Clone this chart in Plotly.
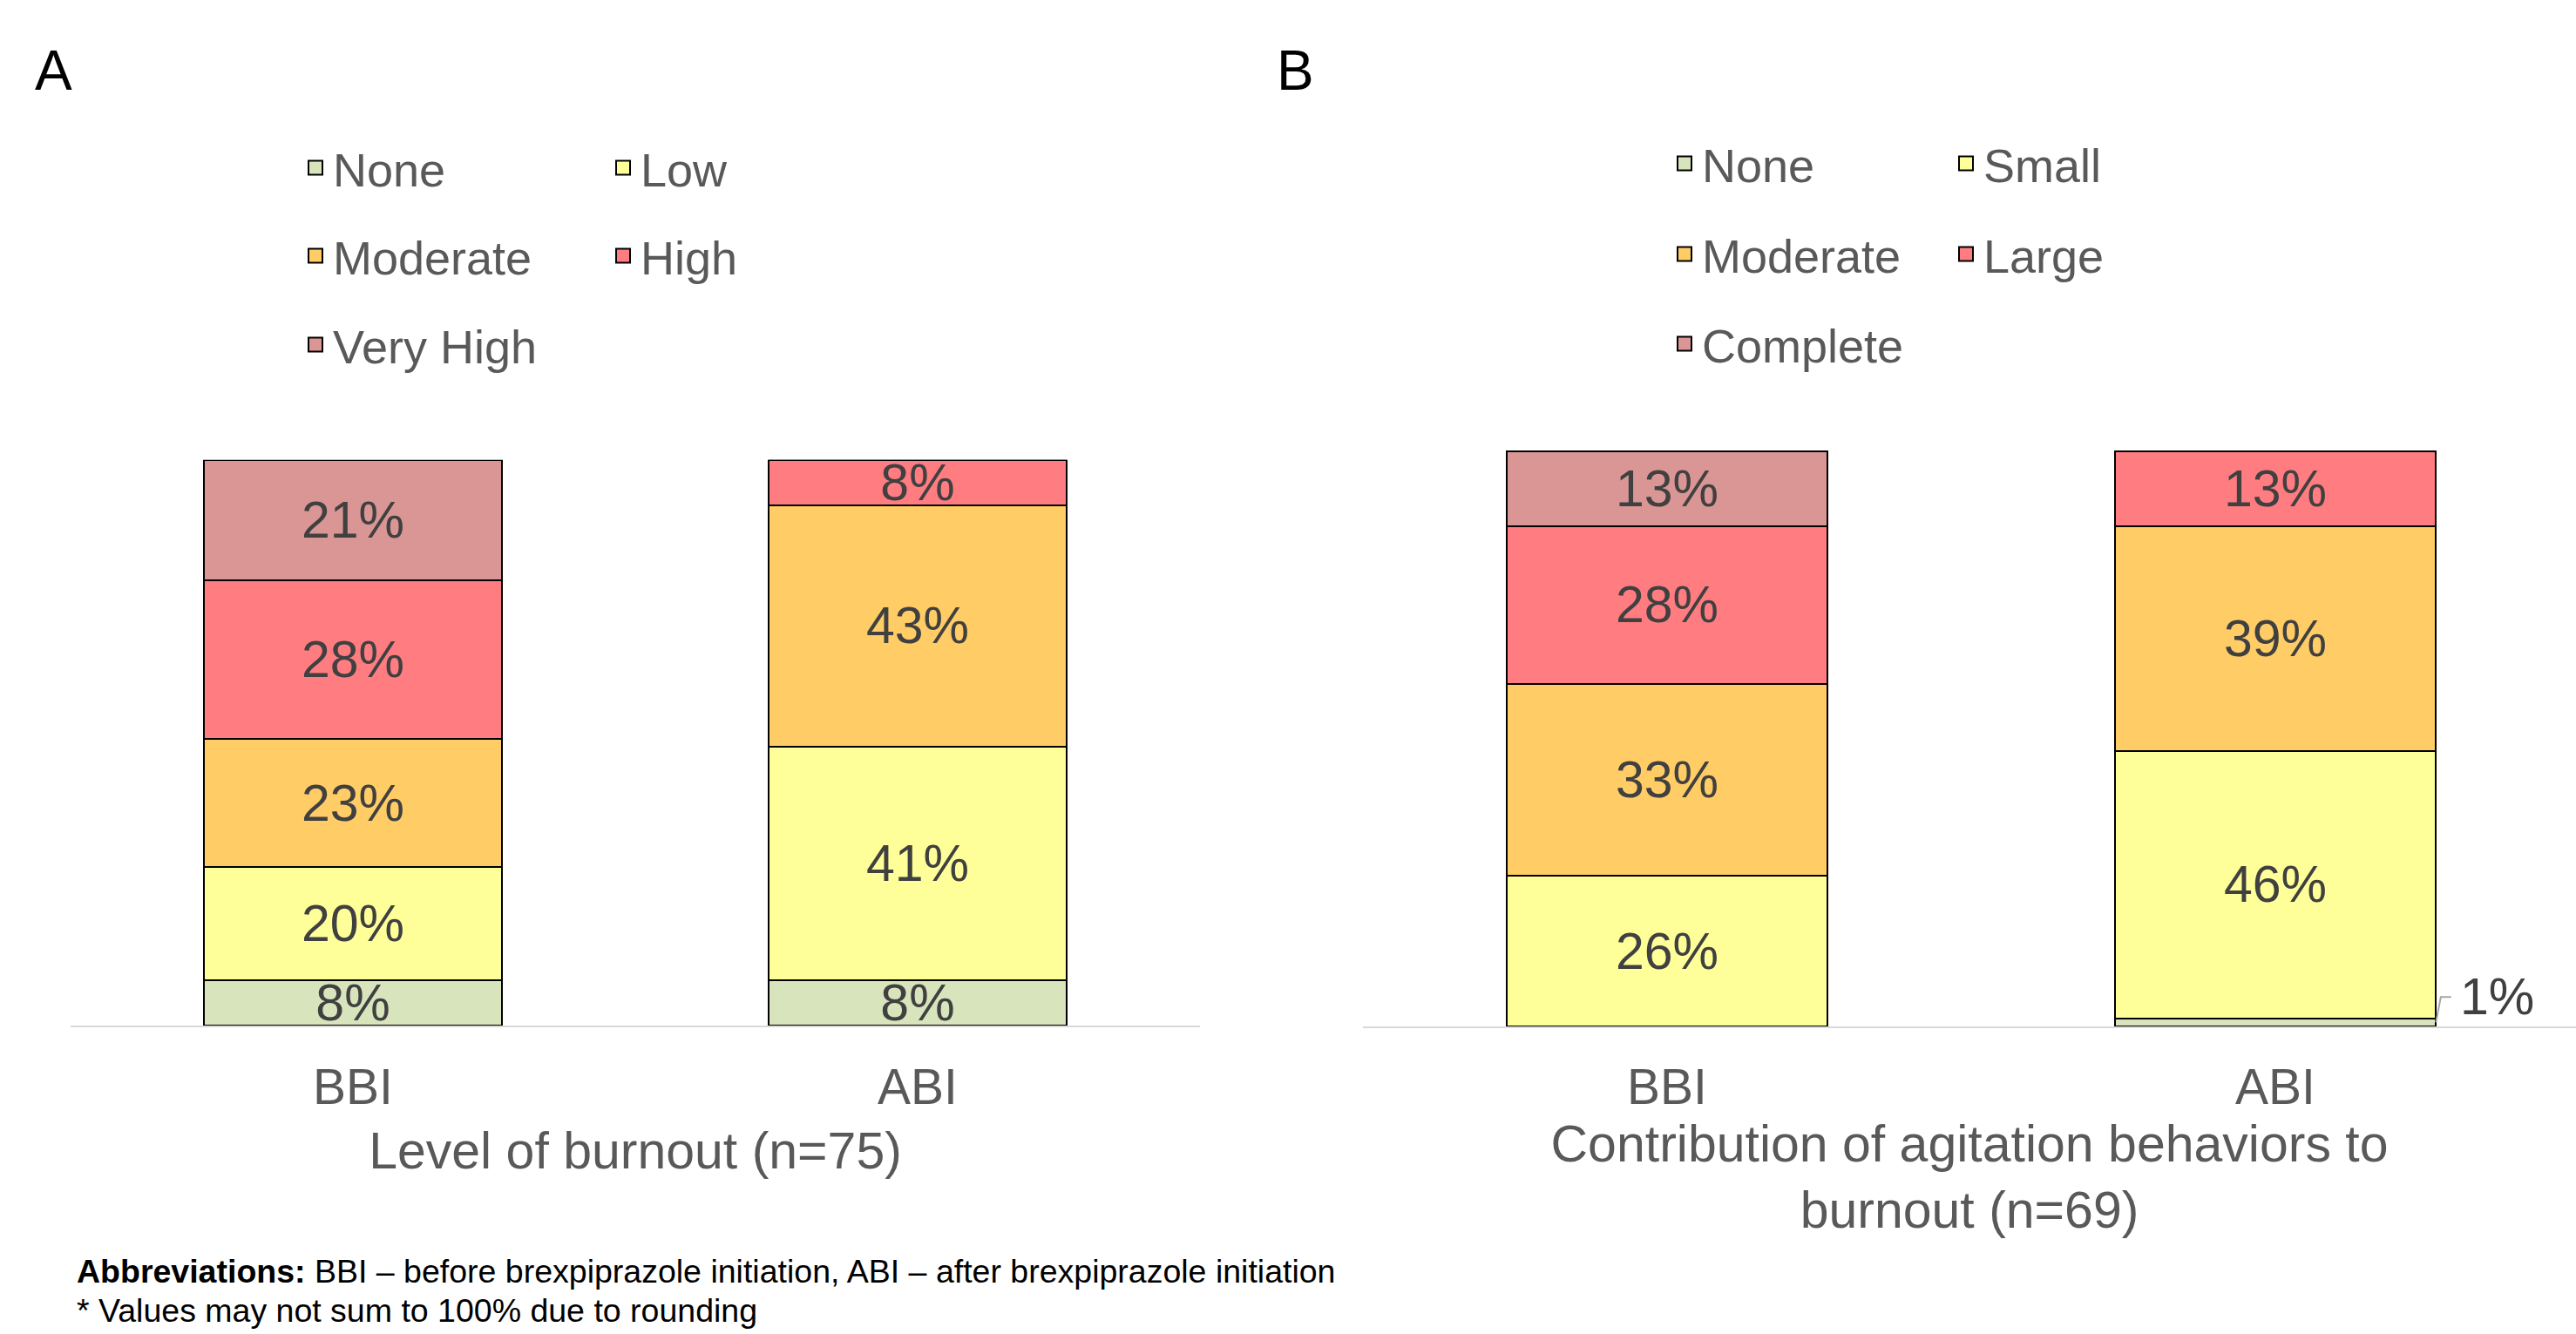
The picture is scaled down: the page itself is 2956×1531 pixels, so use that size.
import plotly.graph_objects as go

# ---------------- data ----------------
CATEGORIES = ["BBI", "ABI"]

A_LEVELS = ["None", "Low", "Moderate", "High", "Very High"]
A_NONE = [8.0, 8.0]
A_LOW = [20.0, 41.3]
A_MODERATE = [22.7, 42.7]
A_HIGH = [28.0, 8.0]
A_VERY_HIGH = [21.3, 0.0]

B_LEVELS = ["None", "Small", "Moderate", "Large", "Complete"]
B_NONE = [0.0, 1.4]
B_SMALL = [26.1, 46.4]
B_MODERATE = [33.3, 39.1]
B_LARGE = [27.5, 13.0]
B_COMPLETE = [13.0, 0.0]

COLORS = ["#D8E4BC", "#FFFF99", "#FFCC66", "#FF7C80", "#DA9694"]

A_TITLE = "Level of burnout (n=75)"
B_TITLE = "Contribution of agitation behaviors to<br>burnout (n=69)"
FOOTNOTE_1 = ("<b>Abbreviations:</b> BBI – before brexpiprazole initiation, "
              "ABI – after brexpiprazole initiation")
FOOTNOTE_2 = "* Values may not sum to 100% due to rounding"

# ---------------- style ----------------
W, H = 2956, 1531
FONT = "Liberation Sans, Arial, sans-serif"
GRAY = "#595959"
LABEL = "#404040"
BAR_WIDTH = 0.528
INSIDE_MIN = 5.0


def px_x(p):
    return p / W


def px_y(p):
    return 1 - p / H


fig = go.Figure()

panels = [
    dict(levels=A_LEVELS, series=[A_NONE, A_LOW, A_MODERATE, A_HIGH, A_VERY_HIGH],
         xa="x", ya="y", legends=["legend", "legend", "legend2", "legend2", "legend3"]),
    dict(levels=B_LEVELS, series=[B_NONE, B_SMALL, B_MODERATE, B_LARGE, B_COMPLETE],
         xa="x2", ya="y2", legends=["legend4", "legend4", "legend5", "legend5", "legend6"]),
]

callouts = []
for pi, p in enumerate(panels):
    for li, (name, vals) in enumerate(zip(p["levels"], p["series"])):
        texts = []
        for ci, v in enumerate(vals):
            if v >= INSIDE_MIN:
                texts.append(f"{v:.0f}%")
            else:
                texts.append("")
                if v > 0:
                    below = sum(s[ci] for s in p["series"][:li])
                    callouts.append((pi, ci, below, v))
        group = f"p{pi}_{li}"
        fig.add_trace(go.Bar(
            x=CATEGORIES, y=vals, name=name, xaxis=p["xa"], yaxis=p["ya"],
            width=BAR_WIDTH, text=texts, textposition="inside",
            insidetextanchor="middle", textangle=0, constraintext="none",
            textfont=dict(family=FONT, size=59, color=LABEL),
            marker=dict(color=COLORS[li], line=dict(color="#000000", width=2)),
            showlegend=False, legendgroup=group, hoverinfo="x+y+name",
            cliponaxis=False,
        ))
        # legend entry (square swatch)
        fig.add_trace(go.Scatter(
            x=[None], y=[None], mode="markers", name=name, xaxis=p["xa"], yaxis=p["ya"],
            marker=dict(symbol="square", size=16, color=COLORS[li],
                        line=dict(color="#000000", width=2)),
            legend=p["legends"][li], legendgroup=group, showlegend=True,
        ))

# leader-line callouts for tiny segments
shapes = []
annotations = []
for pi, ci, below, v in callouts:
    xa = "x2" if pi == 1 else "x"
    ya = "y2" if pi == 1 else "y"
    x0 = ci + BAR_WIDTH / 2
    y0 = below + v / 2
    x1 = x0 + 0.008
    y1 = y0 + 4.4
    x2 = x1 + 0.017
    shapes.append(dict(type="path", xref=xa, yref=ya,
                       path=f"M {x0},{y0} L {x1},{y1} L {x2},{y1}",
                       line=dict(color="#A6A6A6", width=2)))
    annotations.append(dict(x=x2 + 0.012, y=y1, xref=xa, yref=ya, text=f"{v:.0f}%",
                            showarrow=False, xanchor="left", yanchor="middle",
                            font=dict(family=FONT, size=59, color=LABEL)))

annotations += [
    dict(x=px_x(38), y=px_y(43), xref="paper", yref="paper", text="A", showarrow=False,
         xanchor="left", yanchor="top", font=dict(family=FONT, size=64, color="#000000")),
    dict(x=px_x(1463), y=px_y(43), xref="paper", yref="paper", text="B", showarrow=False,
         xanchor="left", yanchor="top", font=dict(family=FONT, size=64, color="#000000")),
    dict(x=px_x(86), y=px_y(1436), xref="paper", yref="paper", text=FOOTNOTE_1,
         showarrow=False, xanchor="left", yanchor="top", align="left",
         font=dict(family=FONT, size=37.5, color="#000000")),
    dict(x=px_x(86), y=px_y(1481), xref="paper", yref="paper", text=FOOTNOTE_2,
         showarrow=False, xanchor="left", yanchor="top", align="left",
         font=dict(family=FONT, size=37.5, color="#000000")),
]

axis_common = dict(showline=True, linecolor="#D9D9D9", linewidth=2, showgrid=False,
                   zeroline=False, ticks="", tickfont=dict(family=FONT, size=57, color=GRAY),
                   automargin=False, fixedrange=True, ticklabelstandoff=19)

legend_common = dict(orientation="h", xanchor="left", yanchor="middle",
                     bgcolor="rgba(0,0,0,0)", borderwidth=0,
                     font=dict(family=FONT, size=54, color=GRAY))

fig.update_layout(
    width=W, height=H, margin=dict(l=0, r=0, t=0, b=0),
    paper_bgcolor="#FFFFFF", plot_bgcolor="#FFFFFF",
    barmode="stack", font=dict(family=FONT, color=GRAY),
    xaxis=dict(domain=[px_x(81), px_x(1377)], range=[-0.5, 1.5], anchor="y",
               title=dict(text=A_TITLE, standoff=22,
                          font=dict(family=FONT, size=59, color=GRAY)),
               **axis_common),
    yaxis=dict(domain=[1 - 1177.3 / H, 1 - 527.7 / H], range=[0, 100], visible=False,
               anchor="x", fixedrange=True),
    xaxis2=dict(domain=[px_x(1564), 1.0], range=[-0.5, -0.5 + (2956 - 1564) / 698],
                anchor="y2",
                title=dict(text=B_TITLE, standoff=13,
                           font=dict(family=FONT, size=59, color=GRAY)),
                **axis_common),
    yaxis2=dict(domain=[1 - 1178 / H, 1 - 517 / H], range=[0, 100], visible=False,
                anchor="x2", fixedrange=True),
    legend=dict(x=px_x(342), y=px_y(193), entrywidth=308, **legend_common),
    legend2=dict(x=px_x(342), y=px_y(294), entrywidth=308, **legend_common),
    legend3=dict(x=px_x(342), y=px_y(396), entrywidth=308, **legend_common),
    legend4=dict(x=px_x(1913), y=px_y(188), entrywidth=278, **legend_common),
    legend5=dict(x=px_x(1913), y=px_y(292), entrywidth=278, **legend_common),
    legend6=dict(x=px_x(1913), y=px_y(395), entrywidth=278, **legend_common),
    shapes=shapes,
    annotations=annotations,
)

fig.write_html("out.html", config={"displayModeBar": False},
               post_script="document.body.style.margin='0';")
